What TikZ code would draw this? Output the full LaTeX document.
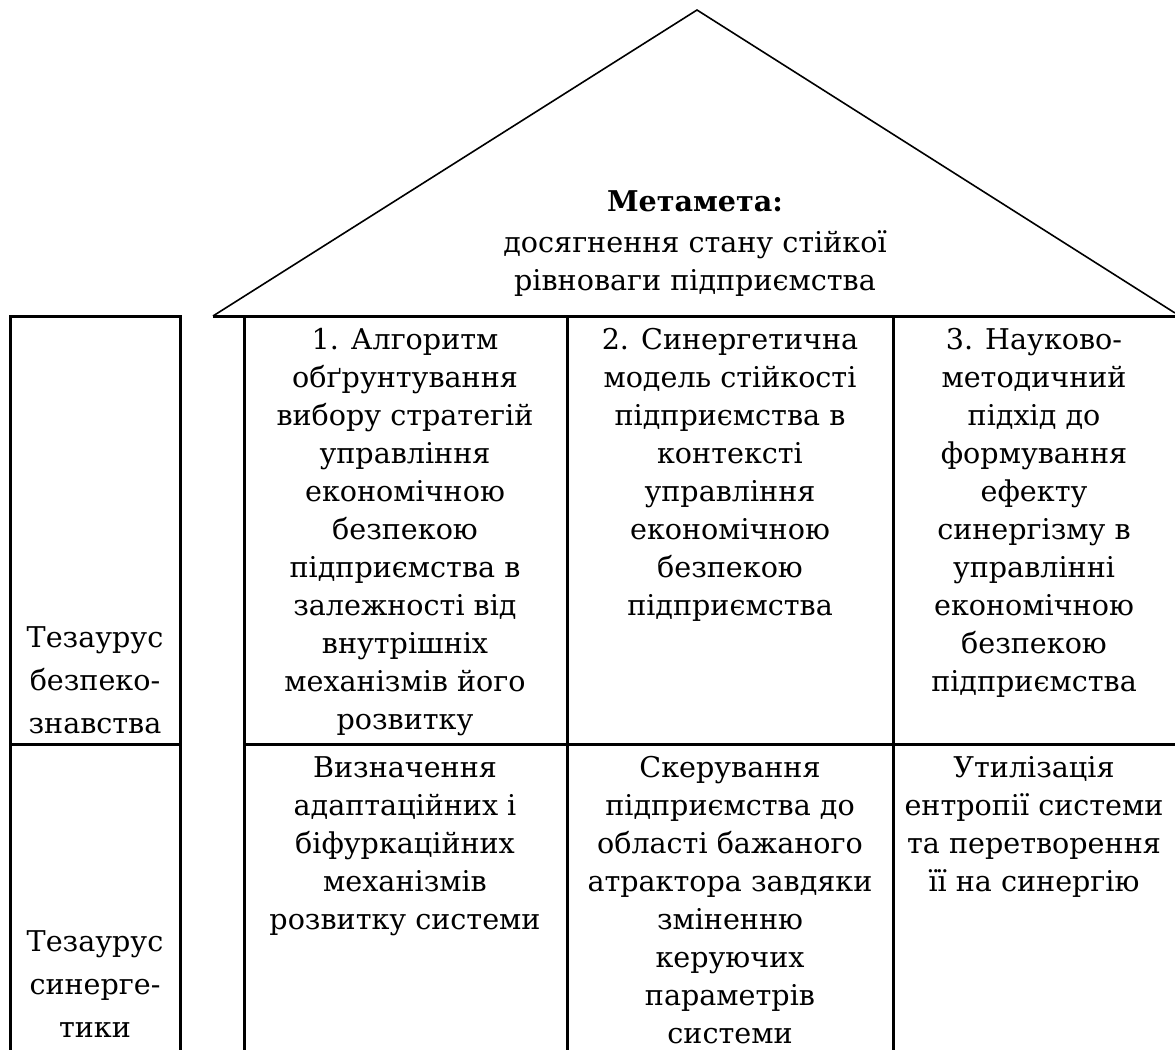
\documentclass[tikz,border=0pt]{standalone}
\usepackage{fontspec}
\setmainfont{DejaVu Serif}
\usetikzlibrary{positioning}

\begin{document}
\begin{tikzpicture}[x=0.5pt, y=-0.5pt,
        every node/.style={font=\fontsize{14.3}{19}\selectfont, align=center, inner sep=0pt},
        frame/.style={line width=1.5pt},
        roof/.style={line width=0.8pt, line join=miter},
        thesaurus/.style={font=\fontsize{14.3}{21.5}\selectfont, anchor=north},
        cell/.style={anchor=north}]
    \useasboundingbox (0,0) rectangle (1175,1050);
    % roof
    \draw[roof] (213,316) -- (697,10) -- (1175,313);
    \draw[frame] (213,316) -- (1175,316);
    % left column
    \draw[frame] (10,1050) -- (10,316) -- (180,316) -- (180,1050);
    \draw[frame] (10,744) -- (180,744);
    % table
    \draw[frame] (244,316) -- (244,1050);
    \draw[frame] (567,316) -- (567,1050);
    \draw[frame] (893,316) -- (893,1050);
    \draw[frame] (244,744) -- (1175,744);

    \node[anchor=north] (goal) at (695,190) {\textbf{Метамета:}\\[1.5pt]досягнення стану стійкої\\рівноваги підприємства};

    \node[thesaurus] (thsec) at (95,626) {Тезаурус\\безпеко-\\знавства};
    \node[thesaurus] (thsyn) at (95,930) {Тезаурус\\синерге-\\тики};

    \node[cell] (algo) at (405,328) {1. Алгоритм\\обґрунтування\\вибору стратегій\\управління\\економічною\\безпекою\\підприємства в\\залежності від\\внутрішніх\\механізмів його\\розвитку};
    \node[cell] (model) at (730,328) {2. Синергетична\\модель стійкості\\підприємства в\\контексті\\управління\\економічною\\безпекою\\підприємства};
    \node[cell] (method) at (1034,328) {3. Науково-\\методичний\\підхід до\\формування\\ефекту\\синергізму в\\управлінні\\економічною\\безпекою\\підприємства};

    \node[cell] (adapt) at (405,756) {Визначення\\адаптаційних і\\біфуркаційних\\механізмів\\розвитку системи};
    \node[cell] (steer) at (730,756) {Скерування\\підприємства до\\області бажаного\\атрактора завдяки\\зміненню\\керуючих\\параметрів\\системи};
    \node[cell] (util) at (1034,756) {Утилізація\\ентропії системи\\та перетворення\\її на синергію};
\end{tikzpicture}
\end{document}
